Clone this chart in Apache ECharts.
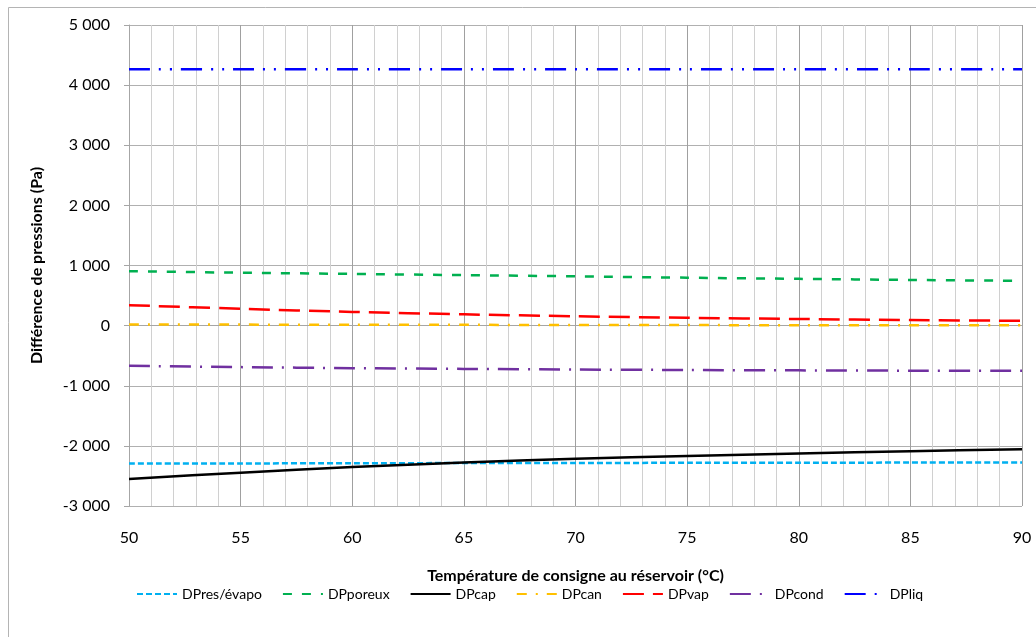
<!DOCTYPE html>
<html>
<head>
<meta charset="utf-8">
<script src="https://cdn.jsdelivr.net/npm/echarts@6/dist/echarts.min.js"></script>
<style>html,body{margin:0;padding:0;background:#fff}#c{width:1036px;height:637px}</style>
</head>
<body>
<div id="c"></div>
<script>
const temps = [50, 55, 60, 65, 70, 75, 80, 85, 90];
const DPres_evapo = [-2295, -2292, -2289, -2286, -2284, -2282, -2280, -2278, -2276];
const DPporeux = [905, 880, 860, 840, 820, 797, 778, 760, 745];
const DPcap = [-2550, -2445, -2352, -2276, -2215, -2168, -2125, -2088, -2055];
const DPcan = [20, 17, 15, 13, 11, 9, 7, 6, 5];
const DPvap = [340, 280, 228, 188, 155, 130, 110, 93, 80];
const DPcond = [-668, -690, -707, -720, -730, -738, -744, -749, -752];
const DPliq = [4265, 4265, 4265, 4265, 4265, 4265, 4265, 4265, 4265];
const seriesNames = ['DPres/évapo', 'DPporeux', 'DPcap', 'DPcan', 'DPvap', 'DPcond', 'DPliq'];
const xTitle = 'Température de consigne au réservoir (°C)';
const yTitle = 'Différence de pressions (Pa)';

const FONT = 'Lato';
const seriesData = [DPres_evapo, DPporeux, DPcap, DPcan, DPvap, DPcond, DPliq];
const colors = ['#00b0f0', '#00b050', '#000000', '#ffc000', '#ff0000', '#7030a0', '#0000ff'];
const dashes = [[6, 3], [9, 10], 'solid', [10, 9, 2, 9], [21, 9], [21, 9, 2, 9], [21, 9, 2, 9, 2, 9]];

function fmt(v) {
  const neg = v < 0;
  let s = String(Math.abs(Math.round(v)));
  s = s.replace(/\B(?=(\d{3})+(?!\d))/g, ' ');
  return (neg ? '-' : '') + s;
}

const chart = echarts.init(document.getElementById('c'), null, {renderer: 'canvas'});
chart.setOption({
  animation: false,
  backgroundColor: '#ffffff',
  graphic: [{
    type: 'rect', left: 6, top: 5, silent: true,
    shape: {width: 1100, height: 700},
    style: {fill: 'none', stroke: '#b4b4b4', lineWidth: 1}
  }],
  grid: {left: 129, right: 14, top: 25, bottom: 131},
  legend: {
    left: 131, top: 582,
    itemWidth: 40, itemHeight: 14, itemGap: 20,
    itemStyle: {opacity: 0},
    textStyle: {fontFamily: FONT, fontSize: 14, color: '#000'},
    data: seriesNames
  },
  xAxis: {
    type: 'value', min: 50, max: 90, interval: 5,
    name: xTitle, nameLocation: 'middle', nameGap: 62,
    nameTextStyle: {fontFamily: FONT, fontSize: 16, fontWeight: 'bold', color: '#000'},
    axisLine: {show: true, lineStyle: {color: '#a6a6a6'}},
    axisTick: {show: true, length: 5, lineStyle: {color: '#a6a6a6'}},
    axisLabel: {fontFamily: FONT, fontSize: 16, color: '#000', margin: 24},
    splitLine: {show: true, lineStyle: {color: '#a0a0a0'}},
    minorTick: {show: false, splitNumber: 5},
    minorSplitLine: {show: true, lineStyle: {color: '#d0d0d0'}}
  },
  yAxis: {
    type: 'value', min: -3000, max: 5000, interval: 1000,
    name: yTitle, nameLocation: 'middle', nameGap: 84,
    nameTextStyle: {fontFamily: FONT, fontSize: 16, fontWeight: 'bold', color: '#000'},
    axisLine: {show: true, lineStyle: {color: '#a6a6a6'}},
    axisTick: {show: true, length: 5, lineStyle: {color: '#a6a6a6'}},
    axisLabel: {fontFamily: FONT, fontSize: 16, color: '#000', margin: 19, formatter: fmt},
    splitLine: {show: true, lineStyle: {color: '#b0b0b0'}}
  },
  series: seriesNames.map((n, i) => ({
    name: n, type: 'line', symbol: 'none', smooth: 0.3,
    data: temps.map((t, j) => [t, seriesData[i][j]]),
    itemStyle: {color: colors[i]},
    lineStyle: {color: colors[i], width: 2.5, type: dashes[i]}
  }))
});
</script>
</body>
</html>
